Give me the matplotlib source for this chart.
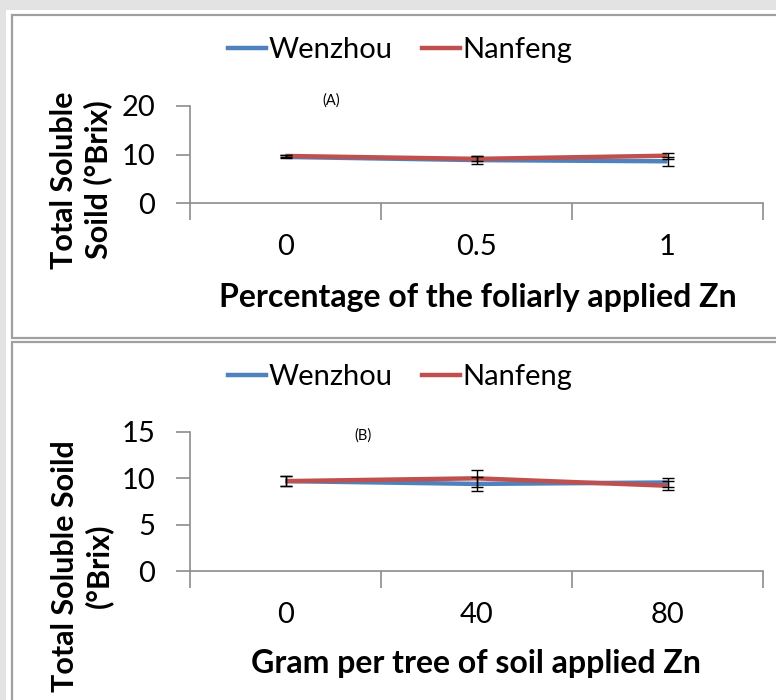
import matplotlib
matplotlib.use("Agg")
import matplotlib.pyplot as plt
from matplotlib.patches import Rectangle
import numpy as np

plt.rcParams['font.family'] = ['Lato', 'DejaVu Sans']

# ---- data ----
series = ["Wenzhou", "Nanfeng"]
colors = ["#4F81BD", "#C0504D"]

a_labels = ["0", "0.5", "1"]
a_wenzhou = [9.5, 8.85, 8.6]
a_wenzhou_err = [0.3, 0.85, 0.95]
a_nanfeng = [9.7, 9.1, 9.75]
a_nanfeng_err = [0.25, 0.5, 0.6]

b_labels = ["0", "40", "80"]
b_wenzhou = [9.7, 9.4, 9.55]
b_wenzhou_err = [0.55, 0.75, 0.5]
b_nanfeng = [9.7, 10.0, 9.2]
b_nanfeng_err = [0.5, 0.9, 0.5]

W, H = 776, 700
fig = plt.figure(figsize=(W / 100, H / 100), dpi=100, facecolor="#e3e3e3")

def px_rect(x0, y0, x1, y1, **kw):
    r = Rectangle((x0 / W, 1 - y1 / H), (x1 - x0) / W, (y1 - y0) / H,
                  transform=fig.transFigure, **kw)
    fig.add_artist(r)

# outer white region
px_rect(6, 10, 790, 720, facecolor="white", edgecolor="none", zorder=-2)
# panels
px_rect(12, 15, 790, 338, facecolor="white", edgecolor="#a0a0a0", linewidth=1.6, zorder=-1)
px_rect(12, 342, 790, 720, facecolor="white", edgecolor="#a0a0a0", linewidth=1.6, zorder=-1)

def make_axes(top, bottom):
    left, right = 190, 763
    ax = fig.add_axes([left / W, 1 - bottom / H, (right - left) / W, (bottom - top) / H])
    ax.set_zorder(2)
    return ax

def style_axes(ax, ymax, ystep, labels):
    ax.set_facecolor("none")
    for s in ["top", "right"]:
        ax.spines[s].set_visible(False)
    for s in ["left", "bottom"]:
        ax.spines[s].set_color("#8c8c8c")
        ax.spines[s].set_linewidth(1.2)
    ax.set_xlim(-0.5, len(labels) - 0.5)
    ax.set_ylim(0, ymax)
    ax.set_yticks(np.arange(0, ymax + 0.1, ystep))
    ax.set_yticklabels([f"{int(v)}" for v in np.arange(0, ymax + 0.1, ystep)], fontsize=21)
    ax.set_xticks(np.arange(-0.5, len(labels), 1.0))
    ax.set_xticklabels([])
    ax.set_xticks(np.arange(len(labels)), minor=True)
    ax.set_xticklabels(labels, minor=True, fontsize=21)
    ax.tick_params(axis="x", which="major", length=12, color="#8c8c8c", width=1.2, direction="out")
    ax.tick_params(axis="x", which="minor", length=0, pad=22)
    ax.tick_params(axis="y", length=10, color="#8c8c8c", width=1.2, pad=15)

def plot_panel(ax, ys, errs):
    x = np.arange(len(ys[0]))
    for y, e, c, n in zip(ys, errs, colors, series):
        ax.plot(x, y, color=c, linewidth=3.2, label=n, solid_capstyle="butt", zorder=3)
        ax.errorbar(x, y, yerr=e, fmt="none", ecolor="black", elinewidth=1.0,
                    capsize=4, capthick=1.0, zorder=4)

def add_legend(ycenter):
    handles = [plt.Line2D([], [], color=c, linewidth=3.2) for c in colors]
    fig.legend(handles, series, loc="center", bbox_to_anchor=(400 / W, 1 - ycenter / H),
               ncol=2, frameon=False, fontsize=21, handlelength=1.3, handletextpad=0.1,
               columnspacing=1.0)

# Panel A
axA = make_axes(106, 203)
style_axes(axA, 20, 10, a_labels)
plot_panel(axA, [a_wenzhou, a_nanfeng], [a_wenzhou_err, a_nanfeng_err])
axA.text(0.246, 1.06, "(A)", transform=axA.transAxes, fontsize=10.5, ha="center", va="center")
fig.text(478 / W, 1 - 297 / H, "Percentage of the foliarly applied Zn", fontsize=23,
         fontweight="bold", ha="center", va="center")
fig.text(81 / W, 1 - 180 / H, "Total Soluble\nSoild (\u00b0Brix)", fontsize=22,
         fontweight="bold", ha="center", va="center", rotation=90, linespacing=1.25)
add_legend(50)

# Panel B
axB = make_axes(432, 571)
style_axes(axB, 15, 5, b_labels)
plot_panel(axB, [b_wenzhou, b_nanfeng], [b_wenzhou_err, b_nanfeng_err])
axB.text(0.302, 0.978, "(B)", transform=axB.transAxes, fontsize=10.5, ha="center", va="center")
fig.text(476 / W, 1 - 663 / H, "Gram per tree of soil applied Zn", fontsize=23,
         fontweight="bold", ha="center", va="center")
fig.text(82 / W, 1 - 566 / H, "Total Soluble Soild\n(\u00b0Brix)", fontsize=22,
         fontweight="bold", ha="center", va="center", rotation=90, linespacing=1.25)
add_legend(377)

fig.savefig("out.png", dpi=100, facecolor=fig.get_facecolor())
